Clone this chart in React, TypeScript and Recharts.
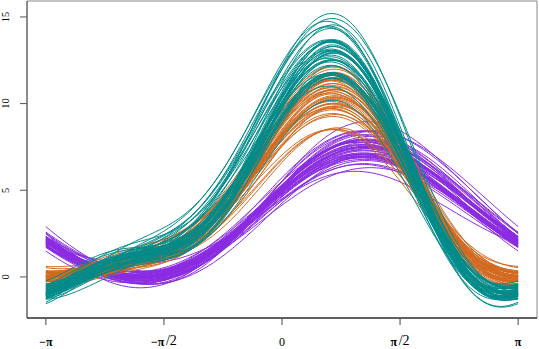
import React from 'react';
import { LineChart, Line, XAxis, YAxis, ReferenceArea } from 'recharts';

// iris measurements, one array per species and variable
const setosaSepalLength = [5.1, 4.9, 4.7, 4.6, 5.0, 5.4, 4.6, 5.0, 4.4, 4.9, 5.4, 4.8, 4.8, 4.3, 5.8, 5.7, 5.4, 5.1, 5.7, 5.1, 5.4, 5.1, 4.6, 5.1, 4.8, 5.0, 5.0, 5.2, 5.2, 4.7, 4.8, 5.4, 5.2, 5.5, 4.9, 5.0, 5.5, 4.9, 4.4, 5.1, 5.0, 4.5, 4.4, 5.0, 5.1, 4.8, 5.1, 4.6, 5.3, 5.0];
const setosaSepalWidth = [3.5, 3.0, 3.2, 3.1, 3.6, 3.9, 3.4, 3.4, 2.9, 3.1, 3.7, 3.4, 3.0, 3.0, 4.0, 4.4, 3.9, 3.5, 3.8, 3.8, 3.4, 3.7, 3.6, 3.3, 3.4, 3.0, 3.4, 3.5, 3.4, 3.2, 3.1, 3.4, 4.1, 4.2, 3.1, 3.2, 3.5, 3.6, 3.0, 3.4, 3.5, 2.3, 3.2, 3.5, 3.8, 3.0, 3.8, 3.2, 3.7, 3.3];
const setosaPetalLength = [1.4, 1.4, 1.3, 1.5, 1.4, 1.7, 1.4, 1.5, 1.4, 1.5, 1.5, 1.6, 1.4, 1.1, 1.2, 1.5, 1.3, 1.4, 1.7, 1.5, 1.7, 1.5, 1.0, 1.7, 1.9, 1.6, 1.6, 1.5, 1.4, 1.6, 1.6, 1.5, 1.5, 1.4, 1.5, 1.2, 1.3, 1.4, 1.3, 1.5, 1.3, 1.3, 1.3, 1.6, 1.9, 1.4, 1.6, 1.4, 1.5, 1.4];
const setosaPetalWidth = [0.2, 0.2, 0.2, 0.2, 0.2, 0.4, 0.3, 0.2, 0.2, 0.1, 0.2, 0.2, 0.1, 0.1, 0.2, 0.4, 0.4, 0.3, 0.3, 0.3, 0.2, 0.4, 0.2, 0.5, 0.2, 0.2, 0.4, 0.2, 0.2, 0.2, 0.2, 0.4, 0.1, 0.2, 0.2, 0.2, 0.2, 0.1, 0.2, 0.2, 0.3, 0.3, 0.2, 0.6, 0.4, 0.3, 0.2, 0.2, 0.2, 0.2];

const versicolorSepalLength = [7.0, 6.4, 6.9, 5.5, 6.5, 5.7, 6.3, 4.9, 6.6, 5.2, 5.0, 5.9, 6.0, 6.1, 5.6, 6.7, 5.6, 5.8, 6.2, 5.6, 5.9, 6.1, 6.3, 6.1, 6.4, 6.6, 6.8, 6.7, 6.0, 5.7, 5.5, 5.5, 5.8, 6.0, 5.4, 6.0, 6.7, 6.3, 5.6, 5.5, 5.5, 6.1, 5.8, 5.0, 5.6, 5.7, 5.7, 6.2, 5.1, 5.7];
const versicolorSepalWidth = [3.2, 3.2, 3.1, 2.3, 2.8, 2.8, 3.3, 2.4, 2.9, 2.7, 2.0, 3.0, 2.2, 2.9, 2.9, 3.1, 3.0, 2.7, 2.2, 2.5, 3.2, 2.8, 2.5, 2.8, 2.9, 3.0, 2.8, 3.0, 2.9, 2.6, 2.4, 2.4, 2.7, 2.7, 3.0, 3.4, 3.1, 2.3, 3.0, 2.5, 2.6, 3.0, 2.6, 2.3, 2.7, 3.0, 2.9, 2.9, 2.5, 2.8];
const versicolorPetalLength = [4.7, 4.5, 4.9, 4.0, 4.6, 4.5, 4.7, 3.3, 4.6, 3.9, 3.5, 4.2, 4.0, 4.7, 3.6, 4.4, 4.5, 4.1, 4.5, 3.9, 4.8, 4.0, 4.9, 4.7, 4.3, 4.4, 4.8, 5.0, 4.5, 3.5, 3.8, 3.7, 3.9, 5.1, 4.5, 4.5, 4.7, 4.4, 4.1, 4.0, 4.4, 4.6, 4.0, 3.3, 4.2, 4.2, 4.2, 4.3, 3.0, 4.1];
const versicolorPetalWidth = [1.4, 1.5, 1.5, 1.3, 1.5, 1.3, 1.6, 1.0, 1.3, 1.4, 1.0, 1.5, 1.0, 1.4, 1.3, 1.4, 1.5, 1.0, 1.5, 1.1, 1.8, 1.3, 1.5, 1.2, 1.3, 1.4, 1.4, 1.7, 1.5, 1.0, 1.1, 1.0, 1.2, 1.6, 1.5, 1.6, 1.5, 1.3, 1.3, 1.3, 1.2, 1.4, 1.2, 1.0, 1.3, 1.2, 1.3, 1.3, 1.1, 1.3];

const virginicaSepalLength = [6.3, 5.8, 7.1, 6.3, 6.5, 7.6, 4.9, 7.3, 6.7, 7.2, 6.5, 6.4, 6.8, 5.7, 5.8, 6.4, 6.5, 7.7, 7.7, 6.0, 6.9, 5.6, 7.7, 6.3, 6.7, 7.2, 6.2, 6.1, 6.4, 7.2, 7.4, 7.9, 6.4, 6.3, 6.1, 7.7, 6.3, 6.4, 6.0, 6.9, 6.7, 6.9, 5.8, 6.8, 6.7, 6.7, 6.3, 6.5, 6.2, 5.9];
const virginicaSepalWidth = [3.3, 2.7, 3.0, 2.9, 3.0, 3.0, 2.5, 2.9, 2.5, 3.6, 3.2, 2.7, 3.0, 2.5, 2.8, 3.2, 3.0, 3.8, 2.6, 2.2, 3.2, 2.8, 2.8, 2.7, 3.3, 3.2, 2.8, 3.0, 2.8, 3.0, 2.8, 3.8, 2.8, 2.8, 2.6, 3.0, 3.4, 3.1, 3.0, 3.1, 3.1, 3.1, 2.7, 3.2, 3.3, 3.0, 2.5, 3.0, 3.4, 3.0];
const virginicaPetalLength = [6.0, 5.1, 5.9, 5.6, 5.8, 6.6, 4.5, 6.3, 5.8, 6.1, 5.1, 5.3, 5.5, 5.0, 5.1, 5.3, 5.5, 6.7, 6.9, 5.0, 5.7, 4.9, 6.7, 4.9, 5.7, 6.0, 4.8, 4.9, 5.6, 5.8, 6.1, 6.4, 5.6, 5.1, 5.6, 6.1, 5.6, 5.5, 4.8, 5.4, 5.6, 5.1, 5.1, 5.9, 5.7, 5.2, 5.0, 5.2, 5.4, 5.1];
const virginicaPetalWidth = [2.5, 1.9, 2.1, 1.8, 2.2, 2.1, 1.7, 1.8, 1.8, 2.5, 2.0, 1.9, 2.1, 2.0, 2.4, 2.3, 1.8, 2.2, 2.3, 1.5, 2.3, 2.0, 2.0, 1.8, 2.1, 1.8, 1.8, 1.8, 2.1, 1.6, 1.9, 2.0, 2.2, 1.5, 1.4, 2.3, 2.4, 1.8, 1.8, 2.1, 2.4, 2.3, 1.9, 2.3, 2.5, 2.3, 1.9, 2.0, 2.3, 1.8];

const speciesColors = ['#8A2BE2', '#D2691E', '#008B8B'];

const xTicks = [-Math.PI, -Math.PI / 2, 0, Math.PI / 2, Math.PI];
const xTickLabels = [['−π', ''], ['−π', '/2'], ['', '0'], ['π', '/2'], ['π', '']];
const yTicks = [0, 5, 10, 15];

const W = 539;
const H = 349;
const FONT = '"Liberation Serif", "DejaVu Serif", serif';

const speciesData = [
  [setosaSepalLength, setosaSepalWidth, setosaPetalLength, setosaPetalWidth],
  [versicolorSepalLength, versicolorSepalWidth, versicolorPetalLength, versicolorPetalWidth],
  [virginicaSepalLength, virginicaSepalWidth, virginicaPetalLength, virginicaPetalWidth],
];

// one curve per flower, in row order
const curves: { row: number[]; color: string }[] = [];
speciesData.forEach((cols, s) => {
  cols[0].forEach((_, i) => {
    curves.push({ row: cols.map((c) => c[i]), color: speciesColors[s] });
  });
});

// Andrews curve: x1/sqrt(2) + x2 sin t + x3 cos t + x4 sin 2t
const andrews = (r: number[], t: number) =>
  r[0] / Math.SQRT2 + r[1] * Math.sin(t) + r[2] * Math.cos(t) + r[3] * Math.sin(2 * t);

const steps = 200;
const chartData = Array.from({ length: steps + 1 }, (_, i) => {
  const t = -Math.PI + (2 * Math.PI * i) / steps;
  const p: Record<string, number> = { t };
  curves.forEach((c, k) => {
    p['c' + k] = andrews(c.row, t);
  });
  return p;
});

const xPad = 0.04 * 2 * Math.PI;
const xDomain = [-Math.PI - xPad, Math.PI + xPad];
const yDomain = [-2.37, 15.92];

const XTick = (props: any) => {
  const { x, y, payload } = props;
  const i = xTicks.findIndex((v) => Math.abs(v - payload.value) < 1e-6);
  const [bold, plain] = xTickLabels[i] || ['', ''];
  const isFrac = bold && plain;
  return (
    <text x={x} y={y + 21} textAnchor="middle" fontFamily={FONT} fontSize={12} fill="#000">
      {bold && <tspan fontWeight="bold">{bold}</tspan>}
      {plain && (
        <tspan fontSize={isFrac ? 14 : 12} dx={isFrac ? 1.5 : 0} dy={isFrac ? -1 : 0}>
          {plain}
        </tspan>
      )}
    </text>
  );
};

const YTick = (props: any) => {
  const { y, payload } = props;
  const cx = 9.5;
  return (
    <text
      x={cx}
      y={y}
      transform={`rotate(-90, ${cx}, ${y})`}
      textAnchor="middle"
      fontFamily={FONT}
      fontSize={10.5}
      fill="#000"
    >
      {payload.value}
    </text>
  );
};

export default function App() {
  return (
    <div style={{ position: 'absolute', left: 0, top: 0, width: W, height: H, background: '#fff' }}>
      <LineChart width={W} height={H} data={chartData} margin={{ top: 1, right: 2, left: 0, bottom: 0 }}>
        <ReferenceArea
          x1={xDomain[0]}
          x2={xDomain[1]}
          y1={yDomain[0]}
          y2={yDomain[1]}
          fill="none"
          stroke="#888"
          strokeWidth={1}
          ifOverflow="visible"
        />
        <XAxis
          dataKey="t"
          type="number"
          domain={xDomain}
          allowDataOverflow
          ticks={xTicks}
          interval={0}
          height={31}
          tickSize={7}
          tickMargin={0}
          tick={<XTick />}
          axisLine={{ stroke: '#000' }}
          tickLine={{ stroke: '#444' }}
        />
        <YAxis
          type="number"
          domain={yDomain}
          allowDataOverflow
          ticks={yTicks}
          interval={0}
          width={27}
          tickSize={7}
          tickMargin={0}
          tick={<YTick />}
          axisLine={{ stroke: '#555' }}
          tickLine={{ stroke: '#555' }}
        />
        {curves.map((c, k) => (
          <Line
            key={k}
            dataKey={'c' + k}
            type="linear"
            stroke={c.color}
            strokeWidth={1}
            dot={false}
            activeDot={false}
            isAnimationActive={false}
          />
        ))}
      </LineChart>
    </div>
  );
}
